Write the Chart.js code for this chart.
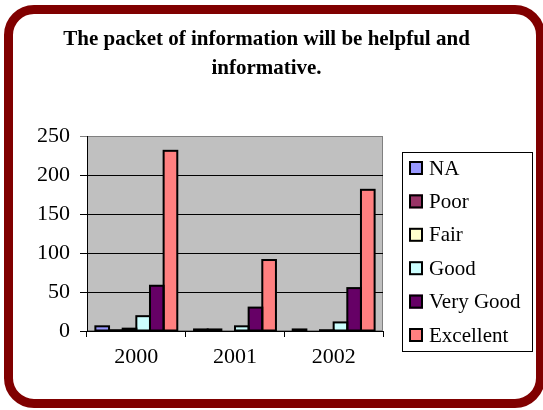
<!DOCTYPE html>
<html>
<head>
<meta charset="utf-8">
<script src="https://cdn.jsdelivr.net/npm/chart.js@4.4.1/dist/chart.umd.min.js"></script>
<style>
  html, body { margin: 0; padding: 0; background: #fff; }
  #wrap { position: relative; width: 543px; height: 410px; overflow: hidden; }
  #frame {
    position: absolute; left: 4px; top: 5px; width: 541px; height: 403px;
    box-sizing: border-box; border: 9px solid #800000; border-radius: 30px;
  }
  canvas { position: absolute; left: 0; top: 0; }
</style>
</head>
<body>
<div id="wrap">
  <div id="frame"></div>
  <canvas id="chart" width="543" height="410"></canvas>
</div>
<script>
// Survey years and rating counts
const years = ['2000', '2001', '2002'];
const ratingNames = ['NA', 'Poor', 'Fair', 'Good', 'Very Good', 'Excellent'];
const naCounts        = [6, 2, 2];
const poorCounts      = [1, 2, 0];
const fairCounts      = [3, 0, 1];
const goodCounts      = [19, 6, 11];
const veryGoodCounts  = [58, 30, 55];
const excellentCounts = [231, 91, 181];
const yTicks = [0, 50, 100, 150, 200, 250];

const ratingColors = ['#9999FF', '#993366', '#FFFFCC', '#CCFFFF', '#660066', '#FF8080'];
const ratingValues = [naCounts, poorCounts, fairCounts, goodCounts, veryGoodCounts, excellentCounts];

const FONT = 'Liberation Serif, Times New Roman, serif';

// Grey plot background with a soft outline
const plotBackground = {
  id: 'plotBackground',
  beforeDraw(chart) {
    const { ctx, chartArea: a } = chart;
    ctx.save();
    ctx.fillStyle = '#C0C0C0';
    ctx.fillRect(a.left, a.top, a.right - a.left, a.bottom - a.top);
    ctx.strokeStyle = '#808080';
    ctx.lineWidth = 1;
    ctx.strokeRect(a.left + 0.5, a.top + 0.5, a.right - a.left - 1, a.bottom - a.top - 1);
    ctx.restore();
  }
};

// Outline each non-zero bar with a stroke centred on its edges
const barOutline = {
  id: 'barOutline',
  afterDatasetsDraw(chart) {
    const { ctx } = chart;
    ctx.save();
    ctx.strokeStyle = '#000';
    ctx.lineWidth = 2;
    chart.data.datasets.forEach((ds, i) => {
      const meta = chart.getDatasetMeta(i);
      meta.data.forEach((bar, j) => {
        if (!ds.data[j]) return;
        const p = bar.getProps(['x', 'y', 'base', 'width'], true);
        ctx.strokeRect(p.x - p.width / 2, p.y, p.width, p.base - p.y);
      });
    });
    ctx.restore();
  }
};

// Boxed legend to the right of the plot
const boxedLegend = {
  id: 'boxedLegend',
  afterDraw(chart, args, opts) {
    const { ctx } = chart;
    const x = opts.left, y = opts.top, w = opts.width, h = opts.height;
    ctx.save();
    ctx.fillStyle = '#fff';
    ctx.fillRect(x, y, w, h);
    ctx.strokeStyle = '#000';
    ctx.lineWidth = 1;
    ctx.strokeRect(x + 0.5, y + 0.5, w, h);
    ctx.font = opts.fontSize + 'px ' + FONT;
    ctx.textBaseline = 'middle';
    ctx.textAlign = 'left';
    chart.data.datasets.forEach((ds, i) => {
      const cy = opts.firstY + i * opts.step;
      const s = opts.box;
      ctx.fillStyle = ds.backgroundColor;
      ctx.fillRect(opts.boxX, cy - s / 2, s, s);
      ctx.strokeStyle = '#000';
      ctx.lineWidth = 2;
      ctx.strokeRect(opts.boxX + 1, cy - s / 2 + 1, s - 2, s - 2);
      ctx.fillStyle = '#000';
      ctx.fillText(ds.label, opts.textX, cy + 1);
    });
    ctx.restore();
  }
};

new Chart(document.getElementById('chart'), {
  type: 'bar',
  data: {
    labels: years,
    datasets: ratingNames.map((name, i) => ({
      label: name,
      data: ratingValues[i],
      backgroundColor: ratingColors[i],
      borderWidth: 0,
      categoryPercentage: 0.83,
      barPercentage: 1.0
    }))
  },
  options: {
    responsive: false,
    animation: false,
    layout: { padding: { left: 0, right: 10, top: 0, bottom: 0 } },
    plugins: {
      legend: { display: false },
      tooltip: { enabled: false },
      title: {
        display: true,
        text: ['The packet of information will be helpful and', 'informative.'],
        color: '#000',
        font: { family: FONT, size: 21, weight: 'bold', lineHeight: 29 / 21 },
        padding: { top: 25, bottom: 53 }
      },
      boxedLegend: {
        left: 402, top: 152, width: 130, height: 199,
        boxX: 409, box: 14, textX: 429,
        firstY: 168, step: 33.4, fontSize: 21
      }
    },
    scales: {
      x: {
        type: 'category',
        offset: true,
        grid: { display: true, drawOnChartArea: false, offset: true, color: '#000', tickLength: 6, lineWidth: 1 },
        border: { display: true, color: '#000', width: 1 },
        ticks: { color: '#000', font: { family: FONT, size: 22 }, padding: 7 },
        afterFit(s) { s.height = 79; }
      },
      y: {
        min: 0,
        max: 250,
        afterBuildTicks(s) { s.ticks = yTicks.map(v => ({ value: v })); },
        grid: {
          color: c => (c.tick && c.tick.value === 250 ? '#808080' : '#000'),
          tickLength: 7,
          lineWidth: 1
        },
        border: { display: true, color: '#000', width: 1 },
        ticks: { color: '#000', font: { family: FONT, size: 22 }, padding: 10 },
        afterFit(s) { s.width = 87; }
      },
      legendSpace: {
        type: 'linear',
        position: 'right',
        display: true,
        grid: { display: false },
        ticks: { display: false },
        border: { display: false },
        afterFit(s) { s.width = 150; }
      }
    }
  },
  plugins: [plotBackground, barOutline, boxedLegend]
});
</script>
</body>
</html>
